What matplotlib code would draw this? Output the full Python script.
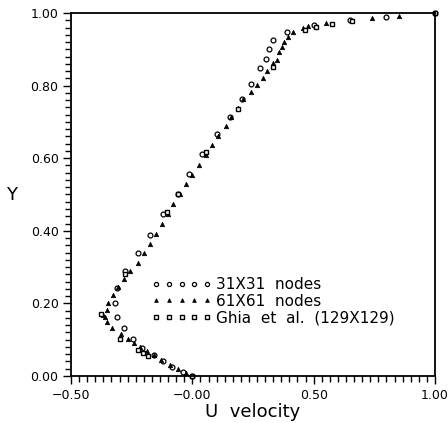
import matplotlib
matplotlib.use("Agg")
import matplotlib.pyplot as plt
from matplotlib.ticker import MultipleLocator, FixedLocator, FixedFormatter

# ---- data ----
u31 = [0.0, -0.04, -0.085, -0.12, -0.16, -0.209, -0.243, -0.282, -0.309, -0.319,
       -0.309, -0.277, -0.225, -0.174, -0.121, -0.058, -0.012, 0.039, 0.10, 0.155,
       0.203, 0.242, 0.279, 0.303, 0.317, 0.334, 0.389, 0.50, 0.65, 0.80, 1.0]
y31 = [0.0, 0.012, 0.025, 0.04, 0.057, 0.078, 0.103, 0.131, 0.163, 0.202,
       0.243, 0.289, 0.338, 0.388, 0.446, 0.50, 0.556, 0.611, 0.667, 0.714,
       0.762, 0.804, 0.848, 0.873, 0.90, 0.926, 0.947, 0.967, 0.981, 0.990, 1.0]

u61 = [0.0, -0.025, -0.06, -0.09, -0.13, -0.16, -0.188, -0.215, -0.24, -0.265,
       -0.295, -0.33, -0.35, -0.36, -0.367, -0.35, -0.346, -0.328, -0.305, -0.282,
       -0.257, -0.225, -0.199, -0.174, -0.15, -0.126, -0.10, -0.078, -0.05, -0.026,
       0.0, 0.029, 0.055, 0.081, 0.105, 0.137, 0.16, 0.19, 0.21, 0.24,
       0.268, 0.290, 0.309, 0.334, 0.348, 0.358, 0.368, 0.379, 0.395, 0.416,
       0.457, 0.478, 0.55, 0.739, 0.85, 1.0]
y61 = [0.0, 0.009, 0.02, 0.03, 0.045, 0.057, 0.069, 0.080, 0.090, 0.101,
       0.117, 0.133, 0.148, 0.163, 0.168, 0.182, 0.200, 0.223, 0.245, 0.266,
       0.289, 0.312, 0.338, 0.363, 0.39, 0.418, 0.446, 0.474, 0.50, 0.528,
       0.555, 0.581, 0.609, 0.636, 0.66, 0.689, 0.714, 0.739, 0.762, 0.783,
       0.802, 0.822, 0.840, 0.861, 0.870, 0.893, 0.907, 0.921, 0.935, 0.947,
       0.958, 0.964, 0.973, 0.985, 0.992, 1.0]

u_ghia = [0.0, -0.181, -0.202, -0.222, -0.297, -0.378, -0.278, -0.106, -0.061,
          0.057, 0.187, 0.333, 0.466, 0.511, 0.575, 0.659, 1.0]
y_ghia = [0.0, 0.0547, 0.0625, 0.0703, 0.1016, 0.1719, 0.2813, 0.4531, 0.5,
          0.6172, 0.7344, 0.8516, 0.9531, 0.9609, 0.9688, 0.9766, 1.0]

labels = ["31X31  nodes", "61X61  nodes", "Ghia  et  al.  (129X129)"]
xticks = [-0.5, 0.0, 0.5, 1.0]
xticklabels = ["\u22120.50", "\u22120.00", "0.50", "1.00"]
yticks = [0.0, 0.2, 0.4, 0.6, 0.8, 1.0]
yticklabels = ["0.00", "0.20", "0.40", "0.60", "0.80", "1.00"]

fig = plt.figure(figsize=(4.48, 4.23), dpi=100)
ax = fig.add_axes([71 / 448, 47 / 423, 364 / 448, 363 / 423])

ax.plot(u31, y31, linestyle="none", marker="o", ms=3.5, mfc="white",
        mec="black", mew=0.9, label=labels[0], clip_on=False)
ax.plot(u61, y61, linestyle="none", marker="^", ms=3.2, mfc="black",
        mec="black", mew=0.5, label=labels[1], clip_on=False)
ax.plot(u_ghia, y_ghia, linestyle="none", marker="s", ms=2.8, mfc="white",
        mec="black", mew=1.0, label=labels[2], clip_on=False)

ax.set_xlim(-0.5, 1.0)
ax.set_ylim(0.0, 1.0)
ax.xaxis.set_major_locator(FixedLocator(xticks))
ax.xaxis.set_major_formatter(FixedFormatter(xticklabels))
ax.yaxis.set_major_locator(FixedLocator(yticks))
ax.yaxis.set_major_formatter(FixedFormatter(yticklabels))
ax.xaxis.set_minor_locator(MultipleLocator(1 / 30))
ax.yaxis.set_minor_locator(MultipleLocator(0.02))
ax.tick_params(which="both", direction="out", top=False, right=False,
               labelsize=9, width=1.0, color="black")
ax.tick_params(which="major", length=6, pad=3)
ax.tick_params(which="minor", length=4)
for s in ax.spines.values():
    s.set_linewidth(1.3)

ax.set_xlabel("U  velocity", fontsize=13, labelpad=1)
ax.set_ylabel("Y", fontsize=13, rotation=0, labelpad=14, va="center")

leg = ax.legend(loc="upper left", bbox_to_anchor=(0.222, 0.272), numpoints=5,
                frameon=False, fontsize=11, handlelength=3.9, handletextpad=0.3,
                labelspacing=0.1, borderaxespad=0.0, borderpad=0.0,
                markerscale=0.85)

fig.savefig("out.png", dpi=100)
